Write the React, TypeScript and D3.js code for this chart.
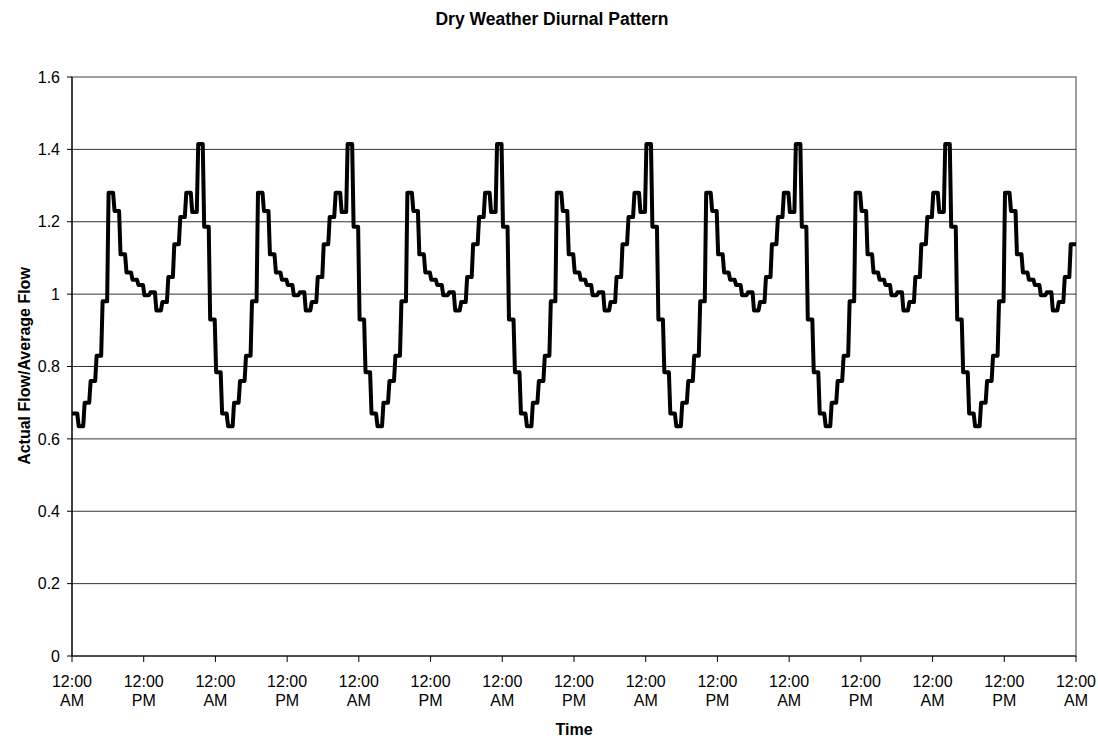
import React from "react";
import * as d3 from "d3";

// one diurnal cycle, hourly values (the cycle repeats every 25 hours)
const cyclePattern = [
  0.67, 0.635, 0.7, 0.76, 0.83, 0.98, 1.28, 1.23, 1.11, 1.06, 1.04, 1.025,
  0.997, 1.005, 0.955, 0.978, 1.047, 1.138, 1.213, 1.28, 1.227, 1.415, 1.186,
  0.93, 0.784,
];
const totalHours = 168;
const yTicks = [0, 0.2, 0.4, 0.6, 0.8, 1, 1.2, 1.4, 1.6];
const xTickHours = d3.range(0, totalHours + 1, 12);
const xTickLabels = xTickHours.map((h) => ["12:00", h % 24 === 0 ? "AM" : "PM"]);

const hourly = d3.range(totalHours).map((h) => ({
  hour: h,
  value: cyclePattern[h % cyclePattern.length],
}));

const W = 1098;
const H = 740;
const margin = { left: 72, right: 22, top: 77, bottom: 84 };
const font = "Arial, 'Liberation Sans', sans-serif";

const App = () => {
  const x = d3.scaleLinear().domain([0, totalHours]).range([margin.left, W - margin.right]);
  const y = d3.scaleLinear().domain([0, 1.6]).range([H - margin.bottom, margin.top]);

  // each hourly value is held as a step, with a short ramp between hours
  const pts: [number, number][] = [];
  hourly.forEach((d, i) => {
    const start = i === 0 ? d.hour : d.hour + 0.12;
    const end = i === hourly.length - 1 ? d.hour + 1 : d.hour + 0.88;
    pts.push([start, d.value], [end, d.value]);
  });
  const line = d3
    .line<[number, number]>()
    .x((d) => x(d[0]))
    .y((d) => y(d[1]));

  const [x0, x1] = x.range();
  const [yb, yt] = y.range();

  return (
    <svg width={W} height={H} style={{ position: "absolute", left: 0, top: 0 }}>
      <rect width={W} height={H} fill="#fff" />
      <text x={552} y={25} textAnchor="middle" fontFamily={font} fontWeight="bold" fontSize={17.5}>
        Dry Weather Diurnal Pattern
      </text>

      {/* plot border */}
      <rect x={x0} y={yt} width={x1 - x0} height={yb - yt} fill="none" stroke="#808080" strokeWidth={1.5} />

      {/* gridlines */}
      {yTicks.filter((t) => t > 0 && t < 1.6).map((t) => (
        <line key={t} x1={x0} x2={x1} y1={y(t)} y2={y(t)} stroke="#000" strokeWidth={0.8} />
      ))}

      {/* y axis */}
      <line x1={x0} x2={x0} y1={yt} y2={yb} stroke="#000" strokeWidth={1.2} />
      {yTicks.map((t) => (
        <g key={t}>
          <line x1={x0 - 5} x2={x0} y1={y(t)} y2={y(t)} stroke="#000" />
          <text x={60} y={y(t) + 5.7} textAnchor="end" fontFamily={font} fontSize={16}>
            {String(t)}
          </text>
        </g>
      ))}

      {/* x axis */}
      <line x1={x0} x2={x1} y1={yb} y2={yb} stroke="#000" strokeWidth={1.2} />
      {xTickHours.map((h, i) => (
        <g key={h}>
          <line x1={x(h)} x2={x(h)} y1={yb} y2={yb + 6} stroke="#000" />
          <text x={x(h)} y={687} textAnchor="middle" fontFamily={font} fontSize={16}>
            {xTickLabels[i][0]}
          </text>
          <text x={x(h)} y={706} textAnchor="middle" fontFamily={font} fontSize={16}>
            {xTickLabels[i][1]}
          </text>
        </g>
      ))}

      <path d={line(pts) ?? ""} fill="none" stroke="#000" strokeWidth={4} strokeLinejoin="round" />

      <text x={574} y={735} textAnchor="middle" fontFamily={font} fontWeight="bold" fontSize={16}>
        Time
      </text>
      <text
        transform={`translate(30,366) rotate(-90)`}
        textAnchor="middle"
        fontFamily={font}
        fontWeight="bold"
        fontSize={16}
      >
        Actual Flow/Average Flow
      </text>
    </svg>
  );
};

export default App;
